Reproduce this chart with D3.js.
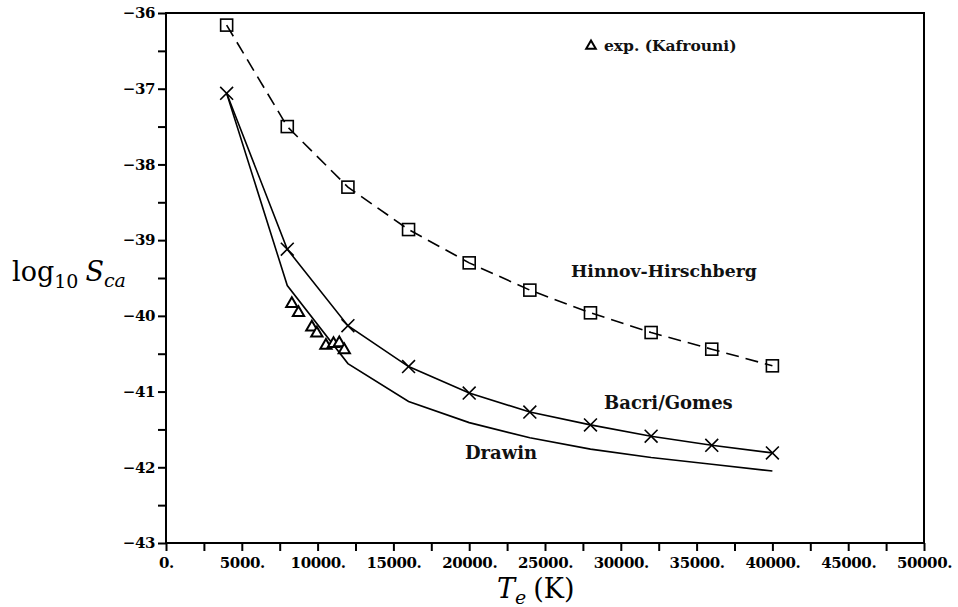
<!DOCTYPE html>
<html>
<head>
<meta charset="utf-8">
<script src="https://cdn.jsdelivr.net/npm/d3@7"></script>
<style>
  html, body { margin: 0; padding: 0; background: #fff; }
  svg { display: block; }
  .tick text { font-family: "DejaVu Serif", serif; font-weight: bold; font-size: 15px; fill: #000; letter-spacing: -0.4px; }
  .lbl { font-family: "DejaVu Serif", serif; font-size: 18px; fill: #111; }
</style>
</head>
<body>
<svg id="chart" width="958" height="607"></svg>
<script>
// ---- data ----
const temps = [4000, 8000, 12000, 16000, 20000, 24000, 28000, 32000, 36000, 40000];
const hinnovHirschberg = [-36.16, -37.50, -38.30, -38.86, -39.30, -39.66, -39.96, -40.22, -40.44, -40.66];
const bacriGomes = [-37.06, -39.12, -40.13, -40.67, -41.02, -41.27, -41.44, -41.59, -41.71, -41.81];
const drawin = [-37.06, -39.60, -40.63, -41.13, -41.41, -41.61, -41.76, -41.87, -41.96, -42.05];
const expT = [8300, 8740, 9620, 9950, 10550, 11050, 11430, 11760];
const expS = [-39.84, -39.96, -40.15, -40.23, -40.39, -40.37, -40.36, -40.45];
const xTicks = d3.range(0, 50001, 2500);
const yTicks = d3.range(-43, -35.9, 0.5);

// ---- layout ----
const svg = d3.select("#chart");
const L = 166, R = 924, T = 13, B = 543;
const x = d3.scaleLinear().domain([0, 50000]).range([L, R]);
const y = d3.scaleLinear().domain([-43, -36]).range([B, T]);

// frame
svg.append("rect").attr("x", L).attr("y", T).attr("width", R - L).attr("height", B - T)
  .attr("fill", "none").attr("stroke", "#000").attr("stroke-width", 2);

// axes
const xAxis = d3.axisBottom(x).tickValues(xTicks).tickSize(8).tickPadding(6)
  .tickFormat(d => d % 5000 === 0 ? d + "." : "");
const gx = svg.append("g").attr("transform", `translate(0,${B})`).call(xAxis);
gx.select(".domain").remove();
gx.selectAll(".tick line").attr("stroke", "#000").attr("stroke-width", 2);

const yAxis = d3.axisLeft(y).tickValues(yTicks).tickSize(8).tickPadding(3)
  .tickFormat(d => Number.isInteger(d) ? "\u2212" + Math.abs(d) : "");
const gy = svg.append("g").attr("transform", `translate(${L},0)`).call(yAxis);
gy.select(".domain").remove();
gy.selectAll(".tick line").attr("stroke", "#000").attr("stroke-width", 2);

// lines
const line = d3.line().x(d => x(d[0])).y(d => y(d[1]));
const hh = temps.map((t, i) => [t, hinnovHirschberg[i]]);
const bg = temps.map((t, i) => [t, bacriGomes[i]]);
const dr = temps.map((t, i) => [t, drawin[i]]);

svg.append("path").datum(hh).attr("d", line).attr("fill", "none")
  .attr("stroke", "#000").attr("stroke-width", 1.6).attr("stroke-dasharray", "13,7");
svg.append("path").datum(bg).attr("d", line).attr("fill", "none")
  .attr("stroke", "#000").attr("stroke-width", 1.6);
svg.append("path").datum(dr).attr("d", line).attr("fill", "none")
  .attr("stroke", "#000").attr("stroke-width", 1.6);

// square markers
svg.selectAll(".sq").data(hh).enter().append("rect")
  .attr("x", d => x(d[0]) - 6).attr("y", d => y(d[1]) - 6)
  .attr("width", 12).attr("height", 12)
  .attr("fill", "none").attr("stroke", "#000").attr("stroke-width", 1.6);

// cross markers
const cross = d3.symbol().type(d3.symbolX).size(110);
svg.selectAll(".cr").data(bg).enter().append("path")
  .attr("d", cross).attr("transform", d => `translate(${x(d[0])},${y(d[1])})`)
  .attr("fill", "none").attr("stroke", "#000").attr("stroke-width", 1.6);

// triangles
const tri = d3.symbol().type(d3.symbolTriangle).size(55);
const ex = expT.map((t, i) => [t, expS[i]]);
svg.selectAll(".tr").data(ex).enter().append("path")
  .attr("d", tri).attr("transform", d => `translate(${x(d[0])},${y(d[1])})`)
  .attr("fill", "#fff").attr("stroke", "#000").attr("stroke-width", 2);

// legend
svg.append("path").attr("d", d3.symbol().type(d3.symbolTriangle).size(40)())
  .attr("transform", "translate(591,46)")
  .attr("fill", "#fff").attr("stroke", "#000").attr("stroke-width", 2);
svg.append("text").attr("class", "lbl").attr("x", 604).attr("y", 51)
  .style("font-weight", "bold").style("font-size", "15.5px").text("exp. (Kafrouni)");

// series labels
svg.append("text").attr("class", "lbl").attr("x", 571).attr("y", 277)
  .style("font-weight", "bold").style("font-size", "17.3px").text("Hinnov-Hirschberg");
svg.append("text").attr("class", "lbl").attr("x", 604).attr("y", 409)
  .style("font-weight", "bold").text("Bacri/Gomes");
svg.append("text").attr("class", "lbl").attr("x", 465).attr("y", 459)
  .style("font-weight", "bold").text("Drawin");

// axis titles
const yt = svg.append("text").attr("x", 12).attr("y", 281)
  .style("font-family", "DejaVu Serif, serif").style("font-size", "27px").attr("fill", "#000");
yt.append("tspan").text("log");
yt.append("tspan").attr("dy", 7).style("font-size", "19px").text("10");
yt.append("tspan").attr("dy", -7).attr("dx", 7).style("font-style", "italic").text("S");
yt.append("tspan").attr("dy", 6).style("font-size", "19px").style("font-style", "italic").text("ca");

const xt = svg.append("text").attr("x", 497).attr("y", 598)
  .style("font-family", "DejaVu Serif, serif").style("font-size", "27px").attr("fill", "#000");
xt.append("tspan").style("font-style", "italic").text("T");
xt.append("tspan").attr("dy", 6).style("font-size", "19px").style("font-style", "italic").text("e");
xt.append("tspan").attr("dy", -6).attr("dx", 7).text("(K)");
</script>
</body>
</html>
